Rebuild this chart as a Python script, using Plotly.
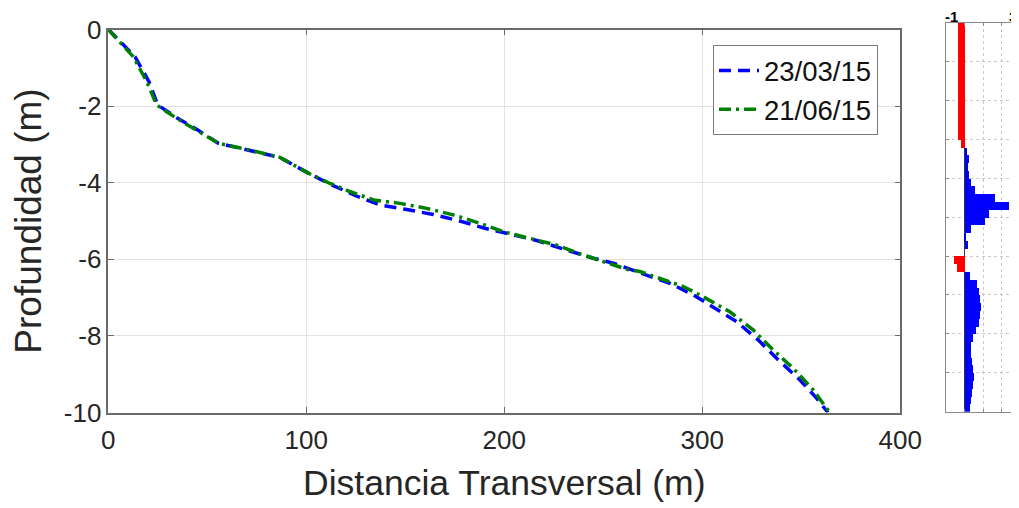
import plotly.graph_objects as go

# ---- Data: profile 23/03/15 ----
dist_a = [0, 13.5, 20.5, 25, 35, 45, 55.6, 75, 86.7, 101, 112, 125.5, 137.2, 150.7, 164.1,
          176.8, 190.2, 199.5, 216.4, 231.5, 244.9, 255, 262, 270, 283.7, 295.5, 306.4,
          317.4, 328.3, 338.4, 348.5, 357.8, 361.1, 363.5]
depth_a = [0, -0.71, -1.36, -1.97, -2.32, -2.62, -2.97, -3.19, -3.34, -3.75, -4.04, -4.35,
           -4.58, -4.7, -4.83, -4.99, -5.19, -5.3, -5.51, -5.76, -5.97, -6.1, -6.24, -6.38,
           -6.63, -6.93, -7.28, -7.63, -8.11, -8.63, -9.11, -9.63, -9.85, -10]

# ---- Data: profile 21/06/15 ----
dist_b = [0, 12.6, 19.4, 24.4, 34.5, 44.6, 55.6, 75, 86.7, 101, 112, 122, 134, 147.3, 160.8,
          174.2, 187.7, 199.5, 213, 226.5, 240, 251.7, 261.8, 268.5, 278.6, 290.4, 300.5,
          313.9, 325.8, 335.9, 346, 356, 362.8, 364.5]
depth_b = [0, -0.71, -1.36, -1.97, -2.32, -2.62, -2.97, -3.19, -3.34, -3.75, -4.02, -4.23,
           -4.45, -4.54, -4.67, -4.84, -5.06, -5.28, -5.45, -5.63, -5.89, -6.1, -6.26, -6.32,
           -6.5, -6.71, -6.98, -7.37, -7.85, -8.37, -8.85, -9.41, -9.89, -10]

# ---- Data: side histogram (difference per 0.2 m depth bin) ----
hist_depth = [-0.1 - 0.2 * i for i in range(50)]
hist_value = [-0.36, -0.36, -0.36, -0.36, -0.36, -0.36, -0.36, -0.36, -0.36, -0.36,
              -0.36, -0.36, -0.36, -0.36, -0.33, -0.2, 0.13, 0.22, 0.18, 0.25,
              0.36, 0.58, 1.63, 2.4, 1.33, 1.08, 0.33, 0.04, 0.2, 0.0,
              -0.59, -0.41, 0.31, 0.66, 0.75, 0.81, 0.88, 0.85, 0.75, 0.6,
              0.43, 0.37, 0.36, 0.4, 0.46, 0.48, 0.47, 0.42, 0.35, 0.3]

x_ticks = [0, 100, 200, 300, 400]
x_tick_text = ["0", "100", "200", "300", "400"]
y_ticks = [0, -2, -4, -6, -8, -10]
y_tick_text = ["0", "-2", "-4", "-6", "-8", "-10"]
hist_x_ticks = [0, 1, 2]
hist_x_ends = ["-1", "3"]

# page body has an 8px margin, so the figure is sized/placed to land on the 1019x508 window
OFF = 8
W, H = 1019 - OFF, 508 - OFF
FONT = "Liberation Sans, Arial, Helvetica, sans-serif"


def px(x):
    return (x - OFF) / W


def py(y):
    return 1 - (y - OFF) / H


fig = go.Figure()
fig.add_trace(go.Scatter(x=dist_a, y=depth_a, mode="lines", name="23/03/15",
                         line=dict(color="#0000ff", width=3.5, dash="12px,7px"),
                         xaxis="x", yaxis="y"))
fig.add_trace(go.Scatter(x=dist_b, y=depth_b, mode="lines", name="21/06/15",
                         line=dict(color="#008000", width=3.5, dash="12px,5px,3px,5px"),
                         xaxis="x", yaxis="y"))

bar_colors = ["#ff0000" if v < 0 else "#0000ff" for v in hist_value]
fig.add_trace(go.Bar(x=hist_value, y=hist_depth, orientation="h", width=0.2,
                     marker=dict(color=bar_colors, line=dict(width=0)),
                     showlegend=False, xaxis="x2", yaxis="y2"))

axis_line = "#6a6a6a"
hist_left, hist_right = 946, 1019
hist_unit = 18.6
fig.update_layout(
    width=W, height=H,
    margin=dict(l=0, r=0, t=0, b=0),
    paper_bgcolor="white", plot_bgcolor="white",
    font=dict(family=FONT, color="#262626"),
    bargap=0,
    xaxis=dict(domain=[px(108.3), px(900.3)], range=[0, 400], tickvals=x_ticks,
               ticktext=x_tick_text,
               showgrid=True, gridcolor="#e3e3e3", gridwidth=1, zeroline=False,
               showline=True, linecolor=axis_line, linewidth=1.5, mirror="ticks",
               ticks="inside", ticklen=6, tickcolor=axis_line, ticklabelstandoff=4,
               tickfont=dict(size=26), automargin=False,
               title=dict(text="Distancia Transversal (m)", font=dict(size=35.5), standoff=16)),
    yaxis=dict(domain=[py(412.5), py(29.5)], range=[-10, 0], tickvals=y_ticks,
               ticktext=y_tick_text,
               showgrid=True, gridcolor="#e3e3e3", gridwidth=1, zeroline=False,
               showline=True, linecolor=axis_line, linewidth=1.5, mirror="ticks",
               ticks="inside", ticklen=6, tickcolor=axis_line,
               tickfont=dict(size=26), automargin=False,
               title=dict(text="Profundidad (m)", font=dict(size=37), standoff=18)),
    xaxis2=dict(domain=[px(hist_left), 1.0],
                range=[-1, -1 + (hist_right - hist_left) / hist_unit],
                tickvals=hist_x_ticks, showticklabels=False, side="top", anchor="y2",
                showgrid=True, gridcolor="#c8c8c8", griddash="dot", gridwidth=1,
                zeroline=True, zerolinecolor="#333333", zerolinewidth=1,
                showline=True, linecolor="#8a8a8a", linewidth=1, mirror="ticks",
                ticks="inside", ticklen=3, tickcolor="#8a8a8a", automargin=False),
    yaxis2=dict(domain=[py(411.7), py(22.6)], range=[-10, 0],
                tickvals=list(range(0, -11, -1)), showticklabels=False, anchor="x2",
                showgrid=True, gridcolor="#c8c8c8", griddash="dot", gridwidth=1,
                zeroline=False, showline=True, linecolor="#8a8a8a", linewidth=1,
                mirror="ticks", ticks="inside", ticklen=3, tickcolor="#8a8a8a",
                automargin=False),
    legend=dict(x=px(713), y=py(45), xanchor="left", yanchor="top",
                bgcolor="white", bordercolor="#7a7a7a", borderwidth=1,
                font=dict(size=27.5, color="#111111"), tracegroupgap=0,
                itemwidth=40),
)

# top-end labels of the side panel axis
for label, xpos in zip(hist_x_ends, [951, 1013]):
    fig.add_annotation(text=label, xref="paper", yref="paper",
                       x=px(xpos), y=py(16), xanchor="center", yanchor="middle",
                       showarrow=False, borderpad=0,
                       font=dict(size=15, color="#000000", family=FONT, weight="bold"))

fig.write_html("out.html")
